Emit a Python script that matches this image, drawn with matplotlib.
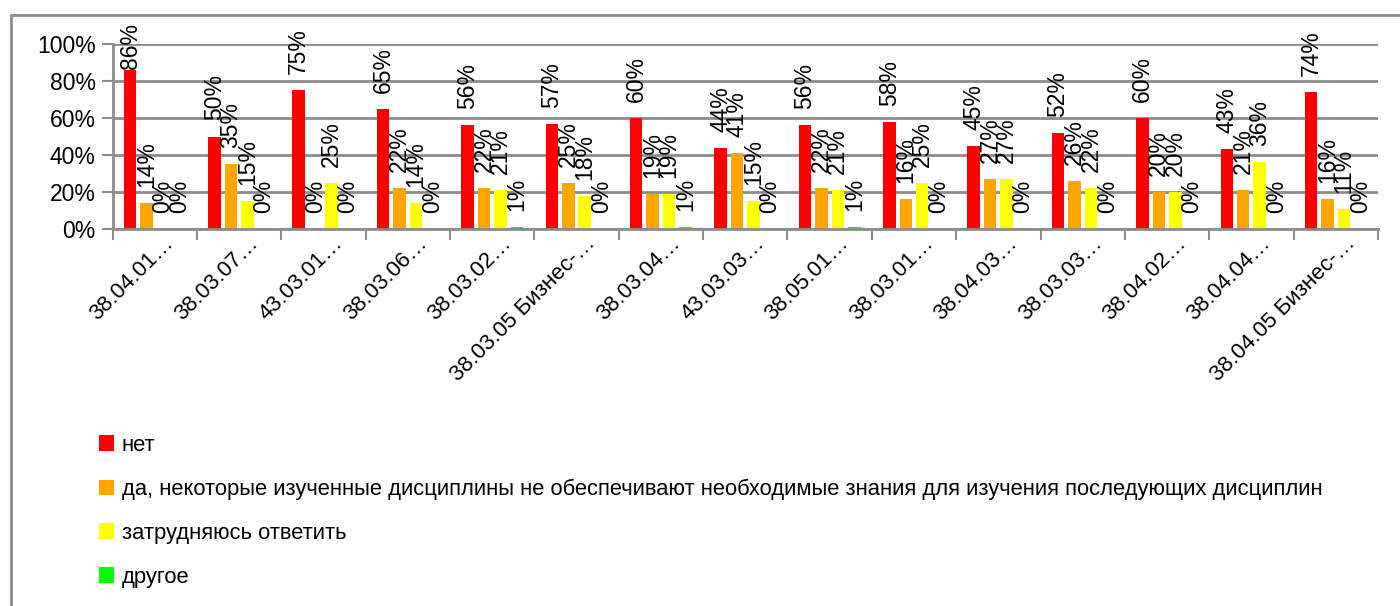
import matplotlib

matplotlib.use("Agg")
import matplotlib.pyplot as plt
import matplotlib.transforms as mtransforms
from matplotlib.patches import Patch, Rectangle

plt.rcParams.update({
    "font.family": ["Liberation Sans", "DejaVu Sans"],
    "figure.dpi": 100,
})

categories = [
    "38.04.01…", "38.03.07…", "43.03.01…", "38.03.06…", "38.03.02…",
    "38.03.05 Бизнес-…", "38.03.04…", "43.03.03…", "38.05.01…", "38.03.01…",
    "38.04.03…", "38.03.03…", "38.04.02…", "38.04.04…", "38.04.05 Бизнес-…",
]
series_names = [
    "нет",
    "да, некоторые изученные дисциплины не обеспечивают необходимые знания для изучения последующих дисциплин",
    "затрудняюсь ответить",
    "другое",
]
net = [86, 50, 75, 65, 56, 57, 60, 44, 56, 58, 45, 52, 60, 43, 74]
da = [14, 35, 0, 22, 22, 25, 19, 41, 22, 16, 27, 26, 20, 21, 16]
zatr = [0, 15, 25, 14, 21, 18, 19, 15, 21, 25, 27, 22, 20, 36, 11]
drugoe = [0, 0, 0, 0, 1, 0, 1, 0, 1, 0, 0, 0, 0, 0, 0]

COLORS = ["#FF0000", "#FFA500", "#FFFF00", "#00FF00"]
GRID = "#8C8C8C"
SLOT = 0.195
BAR_W = 0.148
LABEL_GAP = 16 / 185   # data units above the bar
LABEL_CAP = 0.865

fig = plt.figure(figsize=(14, 6.06))
ax = fig.add_axes([112.5 / 1400, 1 - 229 / 606, (1378 - 112.5) / 1400, 185 / 606])

centers = [i + 0.5 for i in range(len(categories))]
all_series = [net, da, zatr, drugoe]
for k, (vals, color) in enumerate(zip(all_series, COLORS)):
    offs = (k - 1.5) * SLOT
    xs = [c + offs for c in centers]
    ys = [v / 100 for v in vals]
    ax.bar(xs, ys, width=BAR_W, color=color, zorder=2)
    for x, y, v in zip(xs, ys, vals):
        ax.text(x, min(y + LABEL_GAP, LABEL_CAP), f"{v}%", rotation=90,
                ha="center", va="bottom", fontsize=16.5, zorder=4)

ax.set_xlim(0, len(categories))
ax.set_ylim(0, 1)
ax.set_yticks([0, 0.2, 0.4, 0.6, 0.8, 1.0])
ax.set_yticklabels(["0%", "20%", "40%", "60%", "80%", "100%"], fontsize=16.5)
ax.yaxis.grid(True, color=GRID, linewidth=2, zorder=1)
ax.set_axisbelow(True)
ax.set_xticks(range(len(categories) + 1))
ax.set_xticklabels([])
ax.set_xticks(centers, minor=True)
ax.set_xticklabels(categories, minor=True, rotation=45, ha="right",
                   rotation_mode="anchor", va="center", fontsize=16)
ax.tick_params(axis="x", which="minor", length=0, pad=8)
ax.tick_params(axis="x", which="major", length=8, width=1.5, color=GRID)
ax.tick_params(axis="y", length=8, width=1.5, color=GRID, pad=4)
shift = mtransforms.ScaledTranslation(16 / 100, 0, fig.dpi_scale_trans)
for lab in ax.get_xticklabels(minor=True):
    lab.set_transform(lab.get_transform() + shift)
for side in ("top", "right"):
    ax.spines[side].set_visible(False)
for side in ("left", "bottom"):
    ax.spines[side].set_color(GRID)
    ax.spines[side].set_linewidth(2)
    ax.spines[side].set_zorder(3)

handles = [Patch(facecolor=c, edgecolor="none") for c in COLORS]
fig.legend(handles, series_names, loc="upper left",
           bbox_to_anchor=(90 / 1400, 1 - 426 / 606), frameon=False,
           fontsize=15.8, handlelength=0.7, handleheight=0.7,
           handletextpad=0.35, labelspacing=1.04, borderaxespad=0)

fig.patches.append(Rectangle((11 / 1400, -0.1), 1.2, 1.1 - 15 / 606,
                             transform=fig.transFigure, fill=False,
                             edgecolor=GRID, linewidth=2))

fig.savefig("out.png")
